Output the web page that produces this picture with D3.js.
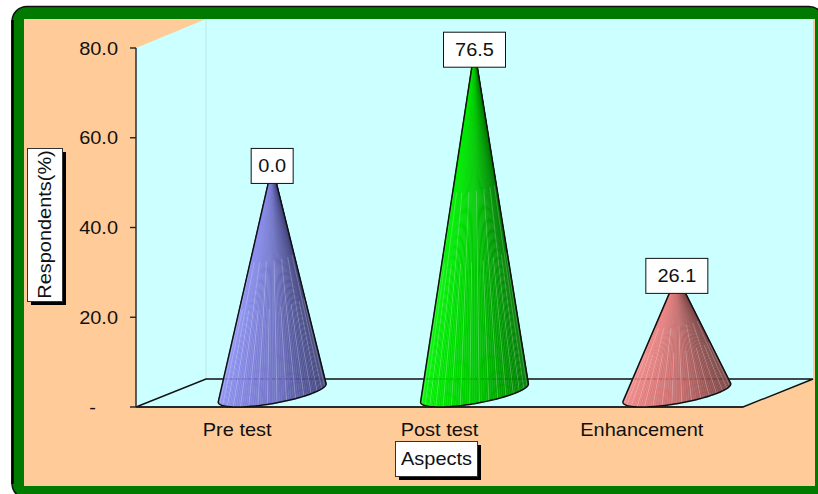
<!DOCTYPE html>
<html><head><meta charset="utf-8">
<script src="https://cdn.jsdelivr.net/npm/d3@7"></script>
<style>html,body{margin:0;padding:0;background:#fff}svg{display:block}text{font-family:"Liberation Sans",Arial,sans-serif;fill:#111}</style>
</head><body><svg id="c" width="818" height="494"></svg>
<script>
const categories=["Pre test","Post test","Enhancement"];
const coneHeights=[50.6,76.5,26.1];
const valueLabels=["0.0","76.5","26.1"];
const tickValues=[0,20,40,60,80];
const tickLabels=["-","20.0","40.0","60.0","80.0"];
const leftColors=["#9092f2","#00f400","#f48686"];
const rightColors=["#44447c","#007c00","#7c4444"];

const svg=d3.select("#c");
const x0=136,x1=743,yTop=48,yBase=407,depthX=70,depthY=28;
const x=d3.scaleBand().domain(categories).range([x0,x1]);
const y=d3.scaleLinear().domain([0,80]).range([yBase,yTop]);

function label(sel,tx,ty,str,anchor,rot){
  return sel.append("text").attr("transform",`translate(${tx},${ty})${rot?" rotate(-90)":""} scale(1.05,1)`)
    .attr("text-anchor",anchor).attr("font-size",19).text(str);
}
// frame
svg.append("rect").attr("x",12).attr("y",6.5).attr("width",812).attr("height",492).attr("rx",15)
  .attr("fill","#007a00").attr("stroke","#111").attr("stroke-width",1.5);
svg.append("line").attr("x1",12.5).attr("x2",12.5).attr("y1",20).attr("y2",484).attr("stroke","#000").attr("stroke-width",2.5);
svg.append("rect").attr("x",790).attr("y",486).attr("width",28).attr("height",8).attr("fill","#007a00");
svg.append("rect").attr("x",24).attr("y",19).attr("width",791).attr("height",467).attr("fill","#ffcc99");
// walls and floor
svg.append("polygon").attr("fill","#ccffff")
  .attr("points",[[x0,yTop],[x0+depthX,19],[x0+depthX,yBase-depthY],[x0,yBase]].join(" "));
svg.append("rect").attr("x",x0+depthX).attr("y",19).attr("width",x1-x0).attr("height",yBase-depthY-19).attr("fill","#ccffff");
svg.append("line").attr("x1",x0+depthX).attr("x2",x0+depthX).attr("y1",19).attr("y2",yBase-depthY).attr("stroke","#b8e8e4");
svg.append("polygon").attr("fill","#ccffff").attr("stroke","#111").attr("stroke-width",1.4)
  .attr("points",[[x0,yBase],[x0+depthX,yBase-depthY],[x1+depthX,yBase-depthY],[x1,yBase]].join(" "));
// axis
svg.append("line").attr("x1",x0).attr("x2",x0).attr("y1",yTop).attr("y2",yBase).attr("stroke","#222").attr("stroke-width",1.4);
svg.append("line").attr("x1",x0).attr("x2",x1).attr("y1",yBase).attr("y2",yBase).attr("stroke","#222").attr("stroke-width",1.4);
tickValues.forEach((v,i)=>{
  svg.append("line").attr("x1",x0-6).attr("x2",x0).attr("y1",y(v)).attr("y2",y(v)).attr("stroke","#222").attr("stroke-width",1.4);
  label(svg,i===0?96:118,y(v)+6.5,tickLabels[i],"end");
});
// cones
const R=41,dX=depthX/2,dY=depthY/2;
categories.forEach((c,i)=>{
  const cx=x(c)+x.bandwidth()/2+dX, cy=yBase-dY;
  const ax=cx, ay=y(coneHeights[i])-dY;
  const pt=t=>[cx+R*Math.cos(t)+dX*Math.sin(t), cy+dY*-Math.sin(t)];
  const samples=d3.range(0,720).map(k=>k/720*2*Math.PI);
  const ang=t=>{const p=pt(t);return Math.atan2(p[0]-ax,p[1]-ay);};
  const tR=samples.reduce((a,b)=>ang(b)>ang(a)?b:a);
  const tL=samples.reduce((a,b)=>ang(b)<ang(a)?b:a);
  let start=tL,end=tR; while(end<start) end+=2*Math.PI;
  if(pt((start+end)/2)[1]<cy){const s=start; start=end; end=s+2*Math.PI; while(end<start) end+=2*Math.PI;}
  const n=72;
  const ts=d3.range(n+1).map(k=>start+(end-start)*k/n);
  const xs=ts.map(t=>pt(t)[0]);
  const xmin=d3.min(xs),xmax=d3.max(xs);
  const col=d3.scaleLinear().domain([0,.55,1]).range([leftColors[i],d3.interpolateRgb(leftColors[i],rightColors[i])(.38),rightColors[i]]);
  const g=svg.append("g");
  d3.pairs(ts).forEach(([a,b])=>{
    const pa=pt(a),pb=pt(b);
    const col2=col(((pa[0]+pb[0])/2-xmin)/(xmax-xmin));
    g.append("polygon").attr("points",[[ax,ay],pa,pb].join(" ")).attr("fill",col2).attr("stroke",col2).attr("stroke-width",.4);
  });
  // faceting streaks
  ts.forEach((t,k)=>{ if(k%4!==2) return;
    const p=pt(t),f=.3+.3*((k%8)/6);
    g.append("line").attr("x1",p[0]).attr("y1",p[1]).attr("x2",p[0]+(ax-p[0])*f).attr("y2",p[1]+(ay-p[1])*f)
      .attr("stroke","#fff").attr("stroke-opacity",.28).attr("stroke-width",.8);
  });
  // faint floor line through cone
  g.append("line").attr("x1",xmin+6).attr("x2",xmax-6).attr("y1",yBase-depthY).attr("y2",yBase-depthY).attr("stroke","#000").attr("stroke-opacity",.18).attr("stroke-dasharray","3 3");
  const outline=[[ax,ay],...ts.map(pt)];
  g.append("polygon").attr("points",outline.join(" ")).attr("fill","none").attr("stroke","#111").attr("stroke-width",1.5).attr("stroke-linejoin","round");
  // value label
  const bw=valueLabels[i].length>3?62:42,bh=35;
  svg.append("rect").attr("x",ax-bw/2).attr("y",ay-bh/2).attr("width",bw).attr("height",bh).attr("fill","#fff").attr("stroke","#111").attr("stroke-width",1);
  label(svg,ax,ay+6.5,valueLabels[i],"middle");
  label(svg,x(c)+x.bandwidth()/2,435.5,c,"middle");
});
// axis titles
function titleBox(bx,by,bw,bh){
  svg.append("rect").attr("x",bx+3.5).attr("y",by+3.5).attr("width",bw).attr("height",bh).attr("fill","#000");
  svg.append("rect").attr("x",bx).attr("y",by).attr("width",bw).attr("height",bh).attr("fill","#fff").attr("stroke","#333").attr("stroke-width",1);
}
titleBox(27.5,148.5,35,153);
label(svg,50.5,224.5,"Respondents(%)","middle",true);
titleBox(395.5,441.5,82,35);
label(svg,436.5,465,"Aspects","middle");
</script></body></html>
